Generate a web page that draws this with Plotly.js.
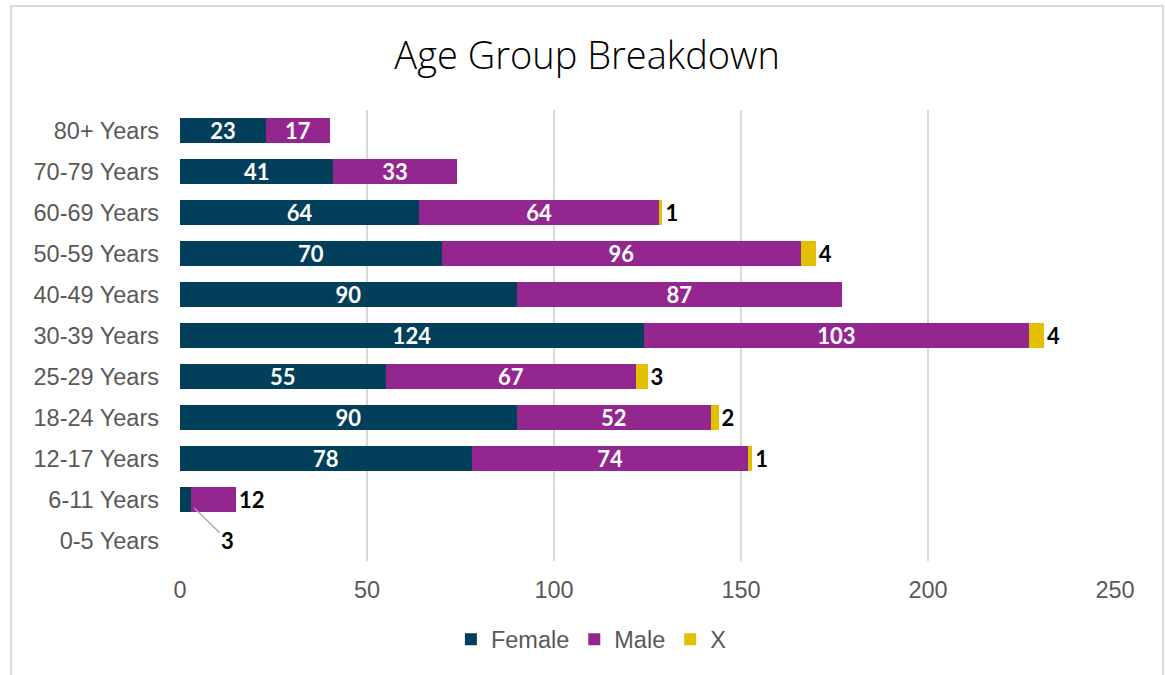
<!DOCTYPE html>
<html>
<head>
<meta charset="utf-8">
<script src="https://cdn.plot.ly/plotly-3.0.1.min.js"></script>
<style>
  html, body { margin:0; padding:0; background:#fff; }
  #wrap { position:relative; width:1165px; height:675px; overflow:hidden; }
  #chart { position:absolute; left:0; top:0; width:1165px; height:675px; }
  #frame { position:absolute; left:10px; top:5px; width:1150px; height:700px; border:2px solid #d9d9d9; pointer-events:none; }
</style>
</head>
<body>
<div id="wrap">
  <div id="chart"></div>
  <div id="frame"></div>
</div>
<script>
const categories = ["0-5 Years","6-11 Years","12-17 Years","18-24 Years","25-29 Years","30-39 Years","40-49 Years","50-59 Years","60-69 Years","70-79 Years","80+ Years"];
const female = [null, 3, 78, 90, 55, 124, 90, 70, 64, 41, 23];
const male   = [null, 12, 74, 52, 67, 103, 87, 96, 64, 33, 17];
const xgen   = [null, null, 1, 2, 3, 4, null, 4, 1, null, null];

const colors = { Female: "#023f5a", Male: "#93278f", X: "#e2c000" };
const labelFont = "Lato, 'Open Sans', sans-serif";
const axisFont = "'Liberation Sans', Arial, sans-serif";

// Female: small value (6-11) is labeled by a callout instead of inside the bar
const femaleText = female.map(v => (v === null || v < 10) ? "" : String(v));
const maleText = male.map(v => v === null ? "" : String(v));
const malePos = male.map(v => (v !== null && v < 15) ? "outside" : "inside");
const xText = xgen.map(v => v === null ? "" : String(v));

const traces = [
  {
    type: "bar", orientation: "h", name: "Female", y: categories, x: female,
    marker: { color: colors.Female }, text: femaleText, textposition: "inside",
    insidetextanchor: "middle", textangle: 0,
    insidetextfont: { color: "#ffffff", size: 22, family: labelFont, weight: 700 },
    hoverinfo: "x+name"
  },
  {
    type: "bar", orientation: "h", name: "Male", y: categories, x: male,
    marker: { color: colors.Male }, text: maleText, textposition: malePos,
    insidetextanchor: "middle", textangle: 0, cliponaxis: false,
    insidetextfont: { color: "#ffffff", size: 22, family: labelFont, weight: 700 },
    outsidetextfont: { color: "#000000", size: 22, family: labelFont, weight: 700 },
    hoverinfo: "x+name"
  },
  {
    type: "bar", orientation: "h", name: "X", y: categories, x: xgen,
    marker: { color: colors.X }, text: xText, textposition: "outside",
    textangle: 0, cliponaxis: false,
    outsidetextfont: { color: "#000000", size: 22, family: labelFont, weight: 700 },
    hoverinfo: "x+name"
  }
];

const calloutIdx = female.findIndex(v => v !== null && v < 10);
const annotations = [];
if (calloutIdx >= 0) {
  annotations.push({
    x: female[calloutIdx] / 2, y: categories[calloutIdx], xref: "x", yref: "y",
    text: "<b>" + female[calloutIdx] + "</b>", showarrow: true, arrowhead: 0,
    arrowwidth: 1.3, arrowcolor: "#a6a6a6", ax: 42, ay: 41, standoff: 12,
    font: { color: "#000000", size: 22, family: labelFont }
  });
}

const layout = {
  width: 1165, height: 675,
  margin: { l: 180, r: 50, t: 110, b: 114 },
  paper_bgcolor: "#ffffff", plot_bgcolor: "#ffffff",
  barmode: "stack", bargap: 0.39,
  uniformtext: { mode: "show", minsize: 22 },
  title: { text: "Age Group Breakdown", x: 0.504, xanchor: "center", y: 0.918, yanchor: "middle",
           font: { family: "'Open Sans', sans-serif", size: 38, weight: 300, color: "#000000" } },
  xaxis: {
    range: [0, 250], dtick: 50, tick0: 0, showgrid: true, gridcolor: "#d9d9d9", gridwidth: 2,
    zeroline: false, showline: false, ticks: "", ticklen: 0, ticklabelstandoff: 12,
    tickfont: { family: axisFont, size: 23.5, color: "#595959" },
    fixedrange: true
  },
  yaxis: {
    type: "category", categoryorder: "array", categoryarray: categories,
    showgrid: false, zeroline: false, showline: false, ticks: "", ticklen: 0,
    ticklabelstandoff: 20,
    tickfont: { family: axisFont, size: 23.5, color: "#595959" },
    fixedrange: true
  },
  legend: {
    orientation: "h", x: 0.44, xanchor: "center", y: -0.125, yanchor: "top",
    font: { family: axisFont, size: 23.5, color: "#595959" },
    traceorder: "normal", itemwidth: 30
  },
  annotations: annotations,
  showlegend: true
};

Plotly.newPlot("chart", traces, layout, { displayModeBar: false, staticPlot: true });
</script>
</body>
</html>
